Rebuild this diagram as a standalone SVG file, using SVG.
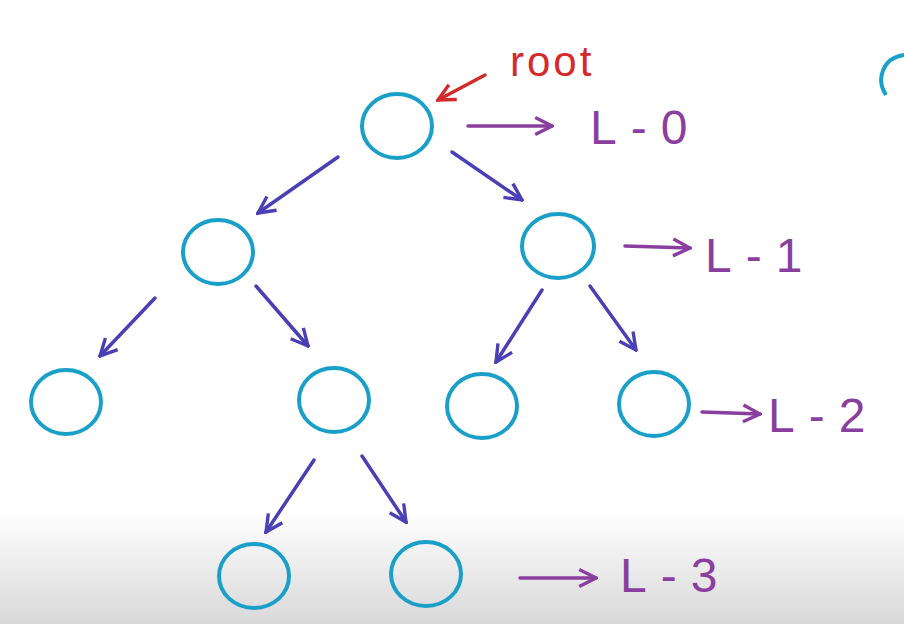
<svg xmlns="http://www.w3.org/2000/svg" width="904" height="624" viewBox="0 0 904 624">
<defs>
<linearGradient id="bg" x1="0" y1="0" x2="0" y2="1">
<stop offset="0" stop-color="#ffffff"/><stop offset="0.82" stop-color="#ffffff"/><stop offset="1" stop-color="#d8d8d8"/>
</linearGradient>
<marker id="hb" viewBox="0 0 10 10" refX="9" refY="5" markerWidth="6" markerHeight="6" orient="auto" markerUnits="strokeWidth"><path d="M1,1 L9,5 L1,9" fill="none" stroke="#4a3fb5" stroke-width="1.6"/></marker>
<marker id="hp" viewBox="0 0 10 10" refX="9" refY="5" markerWidth="6" markerHeight="6" orient="auto" markerUnits="strokeWidth"><path d="M1,1 L9,5 L1,9" fill="none" stroke="#8a3f9e" stroke-width="1.6"/></marker>
<marker id="hr" viewBox="0 0 10 10" refX="9" refY="5" markerWidth="6" markerHeight="6" orient="auto" markerUnits="strokeWidth"><path d="M1,1 L9,5 L1,9" fill="none" stroke="#d42a2a" stroke-width="1.6"/></marker>
</defs>
<style>
.n{fill:none;stroke:#1a9fc9;stroke-width:4}
.e{stroke:#4a3fb5;stroke-width:3.5;fill:none;stroke-linecap:round;marker-end:url(#hb)}
.p{stroke:#8a3f9e;stroke-width:3.5;fill:none;stroke-linecap:round;marker-end:url(#hp)}
.t{fill:#8a3f9e;font-family:"Liberation Sans",sans-serif;font-size:48px;letter-spacing:14px}
</style>
<rect width="904" height="624" fill="url(#bg)"/>
<g id="n0" class="node"><ellipse class="n" cx="397" cy="126" rx="35" ry="32"/></g>
<g id="n1" class="node"><ellipse class="n" cx="218" cy="252" rx="35" ry="32"/></g>
<g id="n2" class="node"><ellipse class="n" cx="558" cy="246" rx="36" ry="32"/></g>
<g id="n3" class="node"><ellipse class="n" cx="66" cy="402" rx="35" ry="32"/></g>
<g id="n4" class="node"><ellipse class="n" cx="334" cy="400" rx="35" ry="32"/></g>
<g id="n5" class="node"><ellipse class="n" cx="482" cy="406" rx="35" ry="32"/></g>
<g id="n6" class="node"><ellipse class="n" cx="654" cy="404" rx="35" ry="32"/></g>
<g id="n7" class="node"><ellipse class="n" cx="254" cy="576" rx="35" ry="32"/></g>
<g id="n8" class="node"><ellipse class="n" cx="426" cy="574" rx="35" ry="32"/></g>
<path class="n" d="M904,55 C882,58 876,80 886,95"/>
<g id="connectors">
<line class="e" x1="338" y1="157" x2="258" y2="213"/>
<line class="e" x1="452" y1="152" x2="522" y2="200"/>
<line class="e" x1="155" y1="298" x2="100" y2="356"/>
<line class="e" x1="256" y1="286" x2="308" y2="346"/>
<line class="e" x1="542" y1="290" x2="496" y2="362"/>
<line class="e" x1="590" y1="286" x2="636" y2="350"/>
<line class="e" x1="314" y1="460" x2="266" y2="532"/>
<line class="e" x1="362" y1="456" x2="406" y2="522"/>
<line class="p" x1="468" y1="126" x2="552" y2="126"/>
<line class="p" x1="625" y1="246" x2="690" y2="248"/>
<line class="p" x1="702" y1="412" x2="760" y2="414"/>
<line class="p" x1="520" y1="578" x2="596" y2="578"/>
<line stroke="#d42a2a" stroke-width="3.5" stroke-linecap="round" marker-end="url(#hr)" x1="485" y1="75" x2="438" y2="100"/>
</g>
<text x="510" y="76" fill="#d42a2a" font-family="Liberation Sans,sans-serif" font-size="42" letter-spacing="3">root</text>
<text class="t" x="590" y="144">L-0</text>
<text class="t" x="705" y="272">L-1</text>
<text class="t" x="768" y="432">L-2</text>
<text class="t" x="620" y="592">L-3</text>
</svg>
